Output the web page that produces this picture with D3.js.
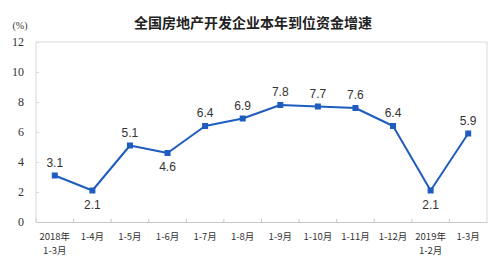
<!DOCTYPE html>
<html>
<head>
<meta charset="utf-8">
<script src="https://cdn.jsdelivr.net/npm/d3@7"></script>
<style>
  body { margin: 0; background: #fff; }
  svg { display: block; font-family: "Noto Sans CJK SC", "Liberation Sans", sans-serif; }
</style>
</head>
<body>
<div id="wrapper"></div>
<script>
// categories (two-line labels split by \n)
const months = ["2018年\n1-3月", "1-4月", "1-5月", "1-6月", "1-7月", "1-8月",
                "1-9月", "1-10月", "1-11月", "1-12月", "2019年\n1-2月", "1-3月"]
const growth = [3.1, 2.1, 5.1, 4.6, 6.4, 6.9, 7.8, 7.7, 7.6, 6.4, 2.1, 5.9]
// labels that sit under the point
const labelBelow = [false, true, false, true, false, false, false, false, false, false, true, false]
const yTicks = [0, 2, 4, 6, 8, 10, 12]

const dimensions = {
  width: 500,
  height: 273,
  margin: { top: 42, right: 13, bottom: 51, left: 36 },
}
dimensions.boundedWidth = dimensions.width - dimensions.margin.left - dimensions.margin.right
dimensions.boundedHeight = dimensions.height - dimensions.margin.top - dimensions.margin.bottom

const wrapper = d3.select("#wrapper")
  .append("svg")
  .attr("width", dimensions.width)
  .attr("height", dimensions.height)

const bounds = wrapper.append("g")
  .attr("transform", `translate(${dimensions.margin.left}, ${dimensions.margin.top})`)

const xScaler = d3.scaleBand()
  .domain(months)
  .range([0, dimensions.boundedWidth])

const yScaler = d3.scaleLinear()
  .domain([0, 12])
  .range([dimensions.boundedHeight, 0])

// frame (left, top, right)
bounds.append("path")
  .attr("d", `M0,${dimensions.boundedHeight}V0H${dimensions.boundedWidth}V${dimensions.boundedHeight}`)
  .attr("fill", "none")
  .attr("stroke", "#d9d9d9")

// y axis
const yAxis = bounds.append("g")
  .call(d3.axisLeft(yScaler).tickValues(yTicks).tickSize(-3).tickPadding(12))
yAxis.select(".domain").remove()
yAxis.selectAll("line").attr("stroke", "#d9d9d9")
yAxis.selectAll("text")
  .attr("fill", "#333")
  .style("font-family", "'Liberation Serif', serif")
  .style("font-size", "12px")

// x axis
const xAxis = bounds.append("g")
  .attr("transform", `translate(0, ${dimensions.boundedHeight})`)
  .call(d3.axisBottom(xScaler).tickSize(0).tickFormat(""))
xAxis.select(".domain").attr("stroke", "#c8c8c8")
xAxis.selectAll(".tick").remove()

// band boundary tick marks
bounds.append("g")
  .selectAll("line")
  .data(months)
  .join("line")
  .attr("x1", d => xScaler(d))
  .attr("x2", d => xScaler(d))
  .attr("y1", dimensions.boundedHeight)
  .attr("y2", dimensions.boundedHeight - 3)
  .attr("stroke", "#c8c8c8")

// x labels
const xLabels = bounds.append("g")
  .selectAll("text")
  .data(months)
  .join("text")
  .attr("x", d => xScaler(d) + xScaler.bandwidth() / 2)
  .attr("y", dimensions.boundedHeight + 18)
  .attr("text-anchor", "middle")
  .attr("fill", "#333")
  .style("font-size", "9.5px")
xLabels.selectAll("tspan")
  .data(d => d.split("\n"))
  .join("tspan")
  .attr("x", function () { return d3.select(this.parentNode).attr("x") })
  .attr("dy", (d, i) => i === 0 ? 0 : 14)
  .text(d => d)

// line
const xPos = (d, i) => xScaler(months[i]) + xScaler.bandwidth() / 2
const line = d3.line()
  .x(xPos)
  .y(d => yScaler(d))

bounds.append("path")
  .datum(growth)
  .attr("d", line)
  .attr("fill", "none")
  .attr("stroke", "#1f5cbf")
  .attr("stroke-width", 2)
  .attr("stroke-linejoin", "round")

// markers
bounds.append("g")
  .selectAll("rect")
  .data(growth)
  .join("rect")
  .attr("x", (d, i) => xPos(d, i) - 3)
  .attr("y", d => yScaler(d) - 3)
  .attr("width", 6)
  .attr("height", 6)
  .attr("fill", "#1f5cbf")

// value labels
bounds.append("g")
  .selectAll("text")
  .data(growth)
  .join("text")
  .attr("x", xPos)
  .attr("y", (d, i) => labelBelow[i] ? yScaler(d) + 18 : yScaler(d) - 9)
  .attr("text-anchor", "middle")
  .attr("fill", "#333")
  .style("font-family", "'Liberation Sans', Arial, sans-serif")
  .style("font-size", "12px")
  .text(d => d3.format(".1f")(d))

// title
wrapper.append("text")
  .attr("x", 253)
  .attr("y", 28)
  .attr("text-anchor", "middle")
  .attr("fill", "#222")
  .style("font-size", "14px")
  .style("font-weight", "600")
  .text("全国房地产开发企业本年到位资金增速")

// unit
wrapper.append("text")
  .attr("x", 20)
  .attr("y", 29)
  .attr("text-anchor", "middle")
  .attr("fill", "#333")
  .style("font-family", "'Liberation Serif', serif")
  .style("font-size", "10px")
  .text("(%)")
</script>
</body>
</html>
